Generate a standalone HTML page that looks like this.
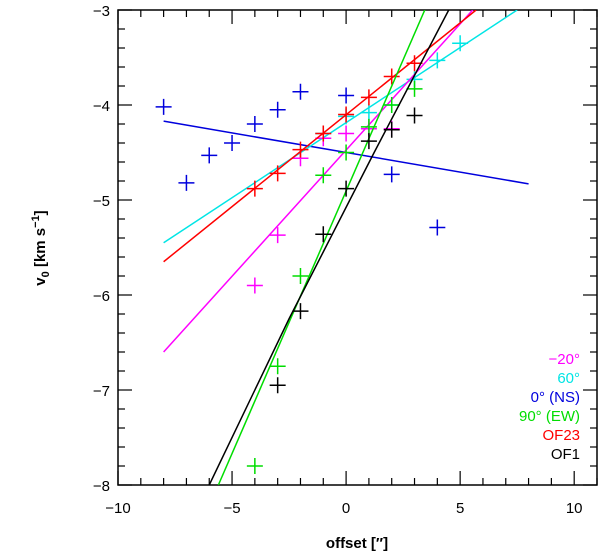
<!DOCTYPE html>
<html><head><meta charset="utf-8"><style>
body{margin:0;background:#fff}
svg{display:block}
text{font-family:"Liberation Sans",sans-serif;font-size:15px}
</style></head><body>
<svg id="chart" width="600" height="556"></svg>
<script>
const blueX=[-8,-7,-6,-5,-4,-3,-2,0,2,4];
const blueY=[-4.02,-4.82,-4.53,-4.4,-4.2,-4.05,-3.86,-3.9,-4.73,-5.29];
const cyanX=[-1,0,1,2,3,4,5];
const cyanY=[-4.3,-4.12,-4.08,-4.0,-3.73,-3.53,-3.35];
const magX=[-4,-3,-2,-1,0,1,2];
const magY=[-5.9,-5.37,-4.56,-4.35,-4.3,-4.25,-4.25];
const redX=[-4,-3,-2,-1,0,1,2,3];
const redY=[-4.88,-4.72,-4.47,-4.3,-4.1,-3.92,-3.7,-3.56];
const greenX=[-4,-3,-2,-1,0,1,2,3];
const greenY=[-7.8,-6.75,-5.8,-4.74,-4.5,-4.23,-4.0,-3.83];
const blackX=[-3,-2,-1,0,1,2,3];
const blackY=[-6.95,-6.17,-5.36,-4.88,-4.38,-4.26,-4.11];
// fit curves: x values and y values
const blueLineX=[-8,8], blueLineY=[-4.17,-4.83];
const cyanLineX=[-8,7.5], cyanLineY=[-5.45,-3.0];
const magLineX=[-8,5.55], magLineY=[-6.6,-3.0];
const redLineX=[-8,5.7], redLineY=[-5.65,-3.0];
const greenLineX=[-5.6,3.45], greenLineY=[-8,-3.0];
const blackLineX=[-6.0,-2.5,1.23,4.5], blackLineY=[-8,-6.25,-4.5,-3.0];
const xTicks=[-10,-5,0,5,10];
const yTicks=[-3,-4,-5,-6,-7,-8];
const legend=[["−20°","#ff00ff"],["60°","#00e5e5"],["0° (NS)","#0000dd"],["90° (EW)","#00dd00"],["OF23","#ff0000"],["OF1","#000000"]];

const L=118,R=597,T=10,B=485;
const sx=v=>L+(v+10)/21*(R-L);
const sy=v=>T+(-3-v)/5*(B-T);
const svg=document.getElementById('chart');
const NS='http://www.w3.org/2000/svg';
function mk(tag,attrs,parent){const e=document.createElementNS(NS,tag);for(const k in attrs)e.setAttribute(k,attrs[k]);(parent||svg).appendChild(e);return e;}

const frame=mk('rect',{x:L,y:T,width:R-L,height:B-T,fill:'none',stroke:'#000','stroke-width':1.5});



const ticksG=mk('g',{stroke:'#000','stroke-width':1.2});


for(let v=-10;v<=11;v++){const x=sx(v),len=v%5===0?14:7;
 mk('line',{x1:x,y1:B,x2:x,y2:B-len},ticksG);mk('line',{x1:x,y1:T,x2:x,y2:T+len},ticksG);}
for(let i=0;i<=25;i++){const v=-8+i*0.2,y=sy(v),len=i%5===0?14:7;
 mk('line',{x1:L,y1:y,x2:L+len,y2:y},ticksG);mk('line',{x1:R,y1:y,x2:R-len,y2:y},ticksG);}

xTicks.forEach(v=>{const t=mk('text',{x:sx(v),y:B+28,'text-anchor':'middle'});t.textContent=String(v).replace('-','−');
 
 });
yTicks.forEach(v=>{const t=mk('text',{x:L-8,y:sy(v)+6,'text-anchor':'end'});t.textContent=String(v).replace('-','−');
 
 });

const xt=mk('text',{x:357,y:548,'text-anchor':'middle','font-weight':'bold'});xt.textContent='offset [″]';


const yt=mk('text',{x:0,y:0,'text-anchor':'middle','font-weight':'bold',transform:'translate(45,248) rotate(-90)'});
yt.innerHTML='v<tspan font-size="11" dy="4">0</tspan><tspan dy="-4"> [km s</tspan><tspan font-size="11" dy="-6">−1</tspan><tspan dy="6">]</tspan>';



const clip=mk('clipPath',{id:'pc'});mk('rect',{x:L,y:T,width:R-L,height:B-T},clip);
const series=[["blue",blueX,blueY,blueLineX,blueLineY,"#0000dd"],["cyan",cyanX,cyanY,cyanLineX,cyanLineY,"#00e5e5"],["magenta",magX,magY,magLineX,magLineY,"#ff00ff"],["red",redX,redY,redLineX,redLineY,"#ff0000"],["green",greenX,greenY,greenLineX,greenLineY,"#00dd00"],["black",blackX,blackY,blackLineX,blackLineY,"#000000"]];
series.forEach(([n,xs,ys,lx,ly,c])=>{
 const g=mk('g',{stroke:c,'stroke-width':1.5,'clip-path':'url(#pc)'});
 
 
 const l=mk('polyline',{points:lx.map((v,i)=>sx(v)+','+sy(ly[i])).join(' '),fill:'none'},g);
 
 
 xs.forEach((v,i)=>{const x=sx(v),y=sy(ys[i]);
  const p=mk('path',{d:`M${x-8},${y}H${x+8}M${x},${y-8}V${y+8}`,fill:'none'},g);
  
  });
});
legend.forEach(([s,c],i)=>{const t=mk('text',{x:580,y:364+i*19,'text-anchor':'end',fill:c,'font-size':'16'});t.textContent=s;
 
 });
</script>
</body></html>
